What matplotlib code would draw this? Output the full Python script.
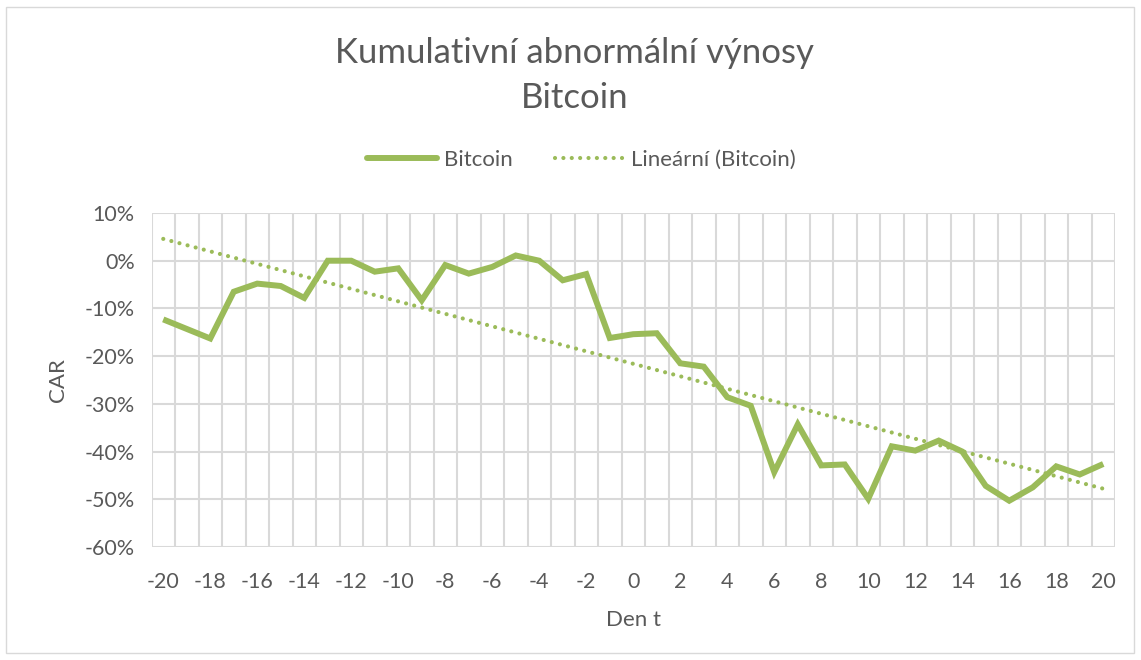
import numpy as np
import matplotlib
matplotlib.use("Agg")
import matplotlib.pyplot as plt
from matplotlib.lines import Line2D
from matplotlib.patches import Rectangle

days = list(range(-20, 21))
car_pct = [-12.3, -14.3, -16.3, -6.5, -4.8, -5.3, -7.8, 0.0, 0.0, -2.3,
           -1.6, -8.3, -0.9, -2.7, -1.3, 1.1, 0.0, -4.1, -2.8, -16.2,
           -15.4, -15.2, -21.5, -22.2, -28.6, -30.4, -44.3, -34.3, -42.9, -42.7,
           -49.9, -38.9, -39.8, -37.7, -40.0, -47.2, -50.3, -47.5, -43.1, -44.8,
           -42.6]
yticks = [10, 0, -10, -20, -30, -40, -50, -60]
xtick_labels = list(range(-20, 21, 2))

title_line1 = "Kumulativní abnormální výnosy"
title_line2 = "Bitcoin"
series_name = "Bitcoin"
trend_name = "Lineární (Bitcoin)"

GREEN = "#9BBB59"
GRID = "#D9D9D9"
TXT = "#595959"
FONT = "Lato"

plt.rcParams['font.family'] = [FONT, 'DejaVu Sans']

fig = plt.figure(figsize=(11.41, 6.60), dpi=100)
fig.patches.append(Rectangle((6/1141, 7/660), 1 - 13/1141, 1 - 14/660,
                             transform=fig.transFigure, fill=False,
                             edgecolor=GRID, linewidth=1.0))

ax = fig.add_axes([151.5/1141, 1 - 547/660, (1115 - 151.5)/1141, (547 - 213)/660])

x = np.array(days, dtype=float)
y = np.array(car_pct, dtype=float) / 100.0

for b in np.arange(-20.5, 21.0, 1.0):
    ax.axvline(b, color=GRID, lw=1.5, zorder=0)
for t in yticks:
    ax.axhline(t / 100.0, color=GRID, lw=1.5, zorder=0)

ax.plot(x, y, color=GREEN, lw=4.3, solid_joinstyle='miter', solid_capstyle='butt', zorder=3)

coef = np.polyfit(x, y, 1)
ax.plot(x, np.polyval(coef, x), color=GREEN, lw=3.0,
        linestyle=(0, (0.01, 2.0)), dash_capstyle='round', zorder=2)

ax.set_xlim(-20.5, 20.5)
ax.set_ylim(-0.6, 0.1)
ax.set_xticks(xtick_labels)
ax.set_xticklabels([str(v) for v in xtick_labels])
ax.set_yticks([t / 100.0 for t in yticks])
ax.set_yticklabels([f"{t}%" for t in yticks])
ax.tick_params(length=0, labelsize=15.5, colors=TXT)
ax.tick_params(axis='x', pad=18)
ax.tick_params(axis='y', pad=12)
for s in ax.spines.values():
    s.set_visible(False)

ax.set_xlabel("Den t", fontsize=16, color=TXT, labelpad=13)
ax.set_ylabel("CAR", fontsize=16, color=TXT, labelpad=12)

fig.text(0.5 + 4/1141, 1 - 53/660, title_line1, ha='center', va='center',
         fontsize=25, color=TXT)
fig.text(0.5 + 4/1141, 1 - 98/660, title_line2, ha='center', va='center', fontsize=25, color=TXT)

handles = [Line2D([], [], color=GREEN, lw=4.3, solid_capstyle='round'),
           Line2D([], [], color=GREEN, lw=3.0, linestyle=(0, (0.01, 2.0)), dash_capstyle='round')]
fig.legend(handles, [series_name, trend_name], loc='center', ncol=2,
           bbox_to_anchor=(0.5 + 11/1141, 1 - 160/660), frameon=False, fontsize=16,
           labelcolor=TXT, handlelength=3.15, handletextpad=0.3, columnspacing=1.9)

fig.savefig("out.png", dpi=100)
